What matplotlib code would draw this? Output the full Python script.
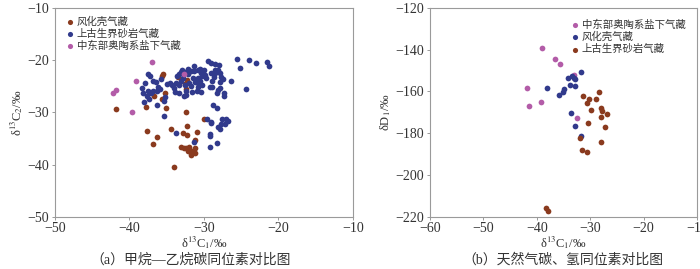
import matplotlib
matplotlib.use("Agg")
import matplotlib.pyplot as plt

plt.rcParams['font.family'] = ['Liberation Serif', 'Noto Sans CJK SC', 'DejaVu Sans']
plt.rcParams['axes.unicode_minus'] = True
plt.rcParams['mathtext.fontset'] = 'stix'

BROWN = '#8a3a1e'
BLUE = '#313a8c'
PINK = '#b35ca8'

# ---------------- Panel (a): methane vs ethane carbon isotopes ----------------
a_weath_x = [-41.8, -37.8, -37.7, -36.3, -36.9, -35.1, -34.0, -34.45, -35.5, -35.6,
             -35.3, -36.7, -35.7, -33.5, -32.4, -32.4, -32.3, -32.8, -32.25, -31.0,
             -30.0, -31.15, -33.1, -32.7, -32.4, -31.95, -32.2, -31.8, -31.8, -31.25,
             -31.15, -31.6, -32.3, -32.5]
a_weath_y = [-29.4, -28.9, -33.6, -34.7, -36.1, -29.25, -40.5, -33.2, -22.7, -23.0,
             -26.3, -26.9, -27.4, -23.2, -25.5, -29.9, -32.65, -33.9, -34.3, -33.8,
             -31.3, -35.3, -36.7, -36.8, -36.85, -36.7, -37.35, -37.8, -38.1, -36.85,
             -37.7, -37.35, -23.8, -24.6]

a_sand_x = [-29.5, -29.0, -28.5, -28.0, -25.55, -23.9, -23.0, -21.5, -21.3, -25.2,
            -30.85, -30.5, -30.05, -28.55, -28.1, -29.1, -28.55, -27.85, -29.9, -30.3,
            -29.75, -28.7, -27.75, -30.85, -30.5, -27.5, -28.9, -26.4, -27.9, -30.85,
            -30.3, -29.2, -28.9, -27.85, -28.1, -28.3, -27.3, -27.3, -24.4, -28.8,
            -28.3, -29.6, -27.6, -27.0, -26.75, -29.0, -27.7, -27.15, -28.1, -27.9,
            -29.2, -29.25, -28.3, -29.25,
            -37.45, -37.25, -37.9, -38.3, -38.2, -36.9, -36.4, -35.8, -37.45, -37.1,
            -36.8, -36.2, -35.9, -36.3, -37.7, -37.35, -38.0, -36.35, -34.9, -34.6,
            -34.3, -34.0, -33.7, -33.35, -33.05, -32.8, -33.35, -33.05, -32.5, -32.2,
            -31.7, -31.3, -30.4, -33.85, -33.35, -32.7, -32.4, -31.6, -30.9, -30.4,
            -31.7, -30.85, -35.25, -35.4, -35.4, -33.8, -31.4, -32.0, -31.5, -31.2,
            -32.6, -33.6, -32.95, -32.1, -31.3, -30.6, -29.1, -32.4]
a_sand_y = [-20.1, -20.6, -20.8, -20.9, -19.8, -19.9, -20.5, -20.4, -21.2, -21.5,
            -21.85, -21.85, -21.85, -21.85, -21.85, -22.55, -22.55, -22.55, -22.9, -23.1,
            -23.4, -23.25, -23.25, -23.5, -23.9, -23.6, -23.9, -23.9, -24.1, -25.05,
            -24.8, -25.1, -25.1, -25.4, -25.7, -26.2, -26.2, -26.9, -25.6, -28.6,
            -29.25, -31.3, -31.2, -31.2, -31.7, -32.1, -32.2, -32.2, -32.85, -33.2,
            -34.1, -34.5, -35.9, -36.6,
            -22.7, -23.1, -24.3, -25.4, -26.3, -24.0, -24.1, -23.6, -25.9, -26.2,
            -25.9, -25.05, -25.6, -26.0, -26.9, -27.5, -28.1, -28.5, -24.6, -24.3,
            -24.8, -25.25, -24.3, -24.8, -24.0, -23.5, -22.7, -22.35, -22.2, -22.7,
            -22.0, -22.0, -22.5, -26.1, -26.35, -26.9, -25.9, -26.1, -25.9, -26.1,
            -24.9, -24.3, -27.05, -27.8, -30.65, -34.0, -35.6, -24.4, -23.5, -24.2,
            -24.8, -23.0, -21.8, -21.7, -21.2, -21.7, -31.9, -26.6]

a_ordo_x = [-37.0, -39.1, -41.8, -42.2, -39.6, -32.7]
a_ordo_y = [-20.4, -23.9, -25.8, -26.3, -29.9, -22.7]

# ---------------- Panel (b): carbon vs hydrogen isotopes ----------------
b_ordo_x = [-38.97, -36.5, -35.6, -41.9, -41.4, -39.3, -32.4, -33.0]
b_ordo_y = [-139.4, -144.5, -146.7, -158.4, -167.1, -165.2, -172.5, -152.0]

b_weath_x = [-31.7, -33.5, -33.0, -32.85, -34.2, -33.8, -32.85, -38.0, -35.0, -35.15,
             -35.9, -33.6, -32.85, -31.7]
b_weath_y = [-150.8, -152.8, -153.4, -154.2, -153.6, -156.8, -157.6, -158.5, -158.7, -160.3,
             -161.7, -170.3, -176.7, -181.5]

b_sand_x = [-31.4, -30.2, -28.9, -28.3, -30.65, -29.8, -28.05, -27.7, -26.8, -28.05,
            -30.5, -27.3, -31.9, -28.05, -31.5, -30.6, -38.3, -37.9]
b_sand_y = [-162.4, -163.7, -163.5, -160.2, -165.7, -169.1, -167.9, -169.5, -170.6, -172.1,
            -175.1, -176.8, -182.2, -184.0, -187.9, -189.1, -216.0, -217.1]

a_xticks = [-50, -40, -30, -20, -10]
a_yticks = [-50, -40, -30, -20, -10]
b_xticks = [-60, -50, -40, -30, -20, -10]
b_yticks = [-220, -200, -180, -160, -140, -120]

LBL_W = '风化壳气藏'
LBL_S = '上古生界砂岩气藏'
LBL_O = '中东部奥陶系盐下气藏'

TXT = '#333333'

fig = plt.figure(figsize=(7.0, 2.69), dpi=100)
ax1 = fig.add_axes([55/700, 1-216.7/269, (353-55)/700, (216.7-8)/269])
ax2 = fig.add_axes([430/700, 1-216.7/269, (697-430)/700, (216.7-8)/269])

S = 17
ax1.scatter(a_weath_x, a_weath_y, s=S, color=BROWN, label=LBL_W, linewidths=0, zorder=3)
ax1.scatter(a_sand_x, a_sand_y, s=S, color=BLUE, label=LBL_S, linewidths=0, zorder=3)
ax1.scatter(a_ordo_x, a_ordo_y, s=S, color=PINK, label=LBL_O, linewidths=0, zorder=4)

ax2.scatter(b_ordo_x, b_ordo_y, s=S, color=PINK, label=LBL_O, linewidths=0, zorder=3)
ax2.scatter(b_weath_x, b_weath_y, s=S, color=BLUE, label=LBL_W, linewidths=0, zorder=3)
ax2.scatter(b_sand_x, b_sand_y, s=S, color=BROWN, label=LBL_S, linewidths=0, zorder=3)

ax1.set_xlim(-50, -10); ax1.set_ylim(-50, -10)
ax1.set_xticks(a_xticks); ax1.set_yticks(a_yticks)
ax2.set_xlim(-60, -10); ax2.set_ylim(-220, -120)
ax2.set_xticks(b_xticks); ax2.set_yticks(b_yticks)

for ax in (ax1, ax2):
    for sp in ax.spines.values():
        sp.set_color('#9a9a9a')
        sp.set_linewidth(0.8)
    ax.tick_params(direction='out', length=2.5, width=0.7, color='#9a9a9a',
                   labelsize=10, labelcolor=TXT, pad=1.5)

ax1.set_ylabel('δ$^{13}$C$_2$/‰', fontsize=9, color=TXT, labelpad=2)
ax2.set_ylabel('δD$_1$/‰', fontsize=9, color=TXT, labelpad=2)
fig.text(204/700, 1-243/269, 'δ$^{13}$C$_1$/‰', ha='center', va='center', fontsize=9, color=TXT)
fig.text(563/700, 1-243/269, 'δ$^{13}$C$_1$/‰', ha='center', va='center', fontsize=9, color=TXT)

leg1 = ax1.legend(loc='upper left', frameon=False, fontsize=7.5, handletextpad=0.1,
                  labelspacing=0.2, borderaxespad=0.5, handlelength=1.2, markerscale=0.9,
                  borderpad=0.3)
leg2 = ax2.legend(loc='upper right', frameon=False, fontsize=7.5, handletextpad=0.1,
                  labelspacing=0.2, borderaxespad=0.5, handlelength=1.2, markerscale=0.9,
                  borderpad=0.6)
for leg in (leg1, leg2):
    for t in leg.get_texts():
        t.set_color(TXT)

fig.text(191/700, 1-260/269, '（a）甲烷—乙烷碳同位素对比图', ha='center', va='center',
         fontsize=10, color=TXT)
fig.text(563/700, 1-260/269, '（b）天然气碳、氢同位素对比图', ha='center', va='center',
         fontsize=10, color=TXT)

fig.savefig('out.png', dpi=100)
